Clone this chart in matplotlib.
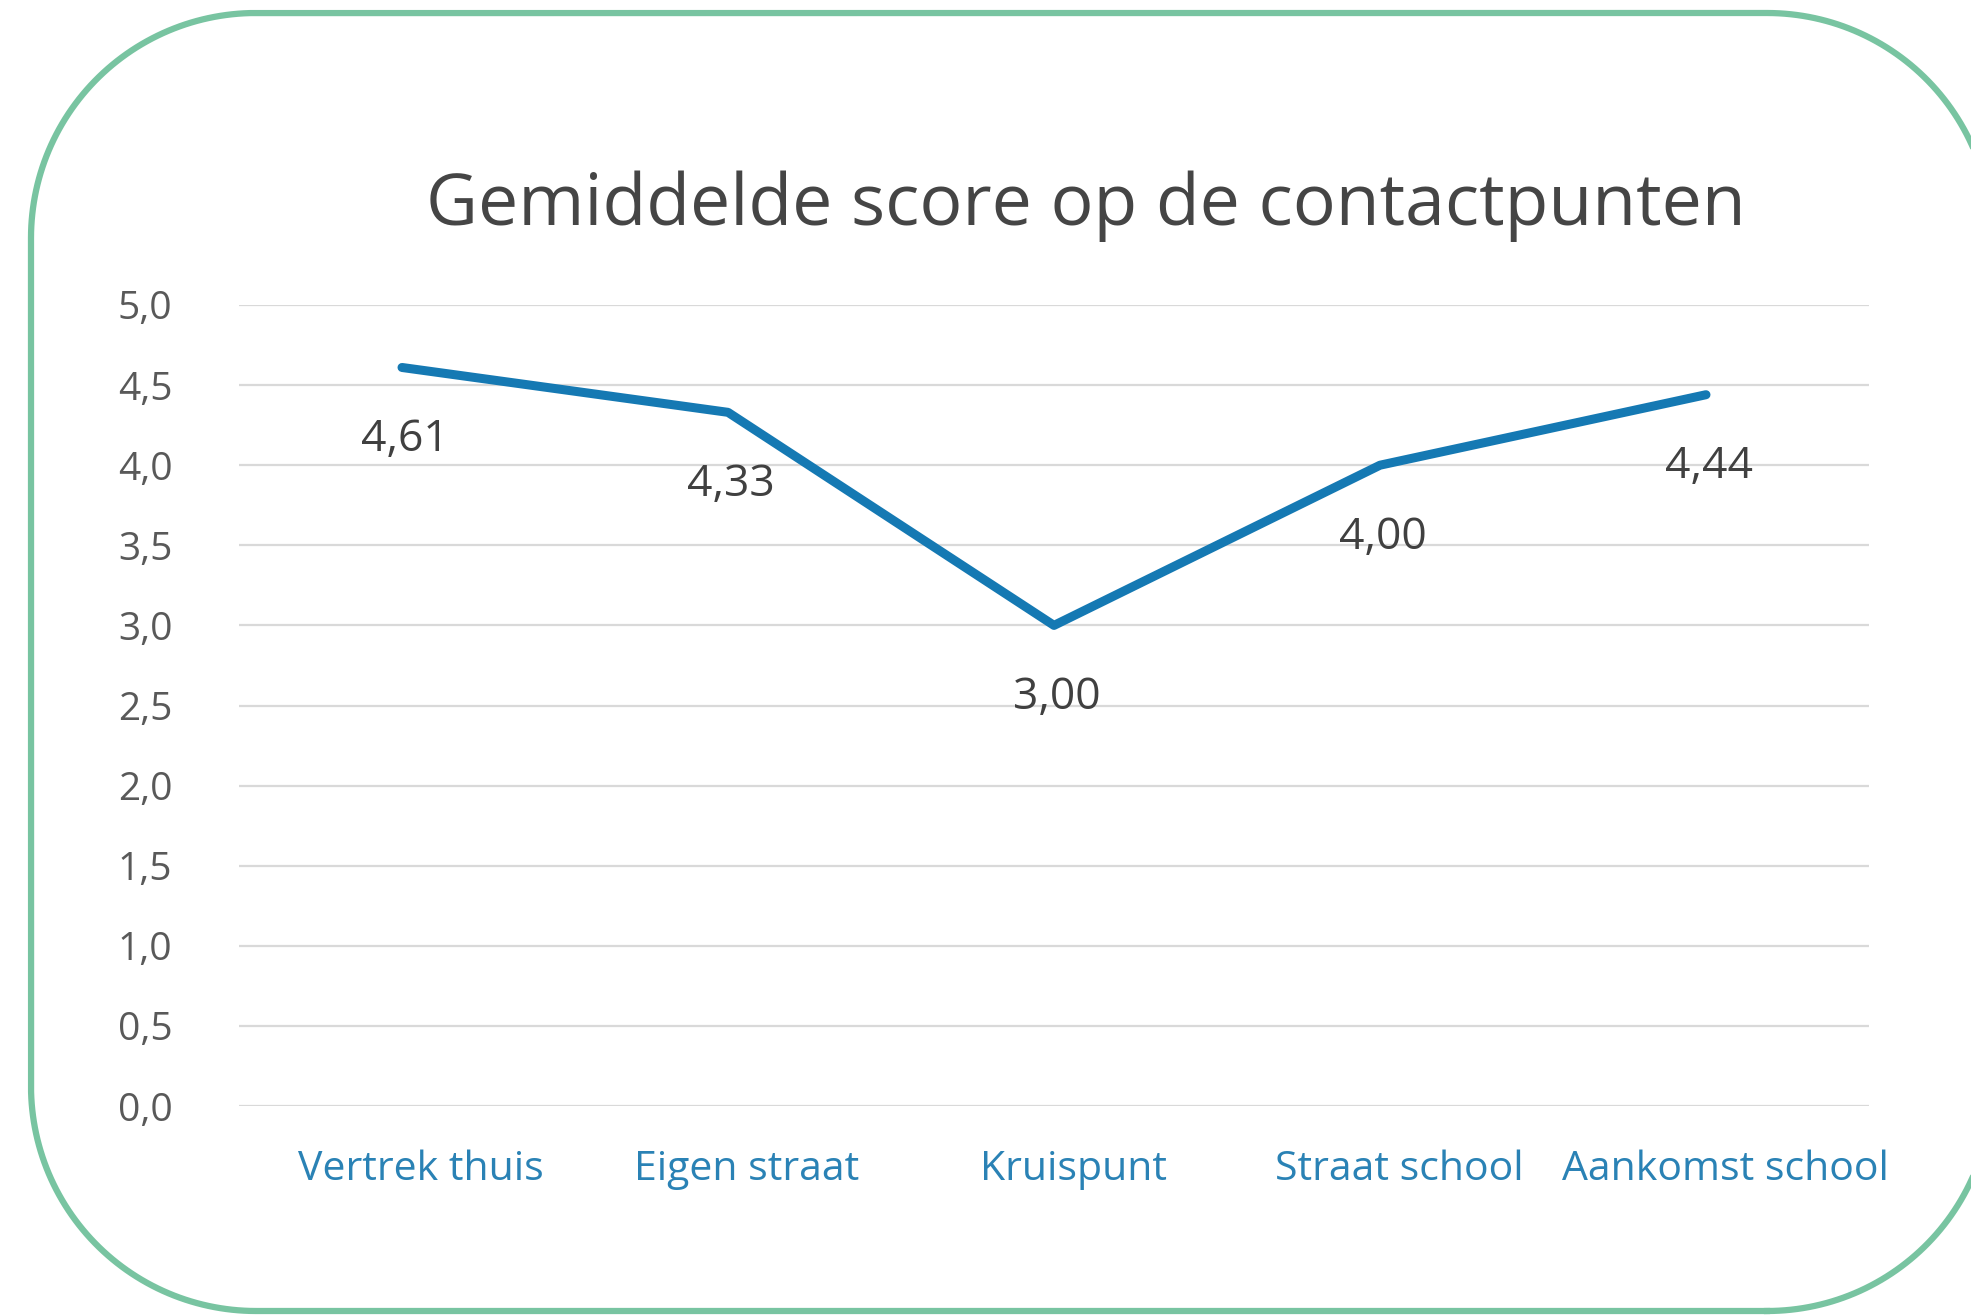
import numpy as np
import matplotlib.pyplot as plt
import matplotlib.transforms as mtransforms

# data
categories = ["Vertrek thuis", "Eigen straat", "Kruispunt", "Straat school", "Aankomst school"]
scores = [4.61, 4.33, 3.00, 4.00, 4.44]
score_labels = ["4,61", "4,33", "3,00", "4,00", "4,44"]
y_ticks = [0.0, 0.5, 1.0, 1.5, 2.0, 2.5, 3.0, 3.5, 4.0, 4.5, 5.0]
y_tick_labels = ["0,0", "0,5", "1,0", "1,5", "2,0", "2,5", "3,0", "3,5", "4,0", "4,5", "5,0"]

plt.rcParams['font.family'] = ['Open Sans', 'DejaVu Sans']

W, H = 1971, 1315
fig = plt.figure(figsize=(W / 100, H / 100), dpi=100)
fig.patch.set_facecolor('white')

# background axis in pixel units for the rounded frame
bg = fig.add_axes([0, 0, 1, 1])
bg.set_xlim(0, W)
bg.set_ylim(0, H)
bg.axis('off')


def rounded_rect(x0, y0, x1, y1, r, n=60):
    # corner centres and start angles, going counter-clockwise
    corners = [(x1 - r, y0 + r, -90), (x1 - r, y1 - r, 0),
               (x0 + r, y1 - r, 90), (x0 + r, y0 + r, 180)]
    xs, ys = [], []
    for cx, cy, a in corners:
        t = np.radians(np.linspace(a, a + 90, n))
        xs.extend(cx + r * np.cos(t))
        ys.extend(cy + r * np.sin(t))
    xs.append(xs[0])
    ys.append(ys[0])
    return xs, ys


fx, fy = rounded_rect(31, 4, 1992, 1302, 225)
bg.plot(fx, fy, color='#78c4a1', linewidth=4.5, clip_on=False)

# the chart itself
ax = fig.add_axes([239 / W, 209 / H, (1869 - 239) / W, (1106 - 305) / H])
ax.set_facecolor('none')
x = list(range(len(categories)))
ax.plot(x, scores, color='#1579b3', linewidth=6.5, solid_capstyle='round',
        solid_joinstyle='round', zorder=3)

for xi, yi, lab in zip(x, scores, score_labels):
    ax.annotate(lab, (xi, yi), xytext=(2, -52), textcoords='offset points',
                ha='center', va='center', fontsize=32, color='#404040')

ax.set_xlim(-0.5, 4.5)
ax.set_ylim(0, 5)
ax.set_yticks(y_ticks)
ax.set_yticklabels(y_tick_labels)
ax.set_xticks(x)
ax.set_xticklabels(categories)
ax.grid(axis='y', color='#d9d9d9', linewidth=1.6)
ax.set_axisbelow(True)
for s in ax.spines.values():
    s.set_visible(False)
ax.tick_params(axis='y', length=0, pad=48, labelsize=28, labelcolor='#595959')
ax.tick_params(axis='x', length=0, pad=31, labelsize=29.5, labelcolor='#2a82b5')

# category labels sit a little to the right of their points in the original
shift = mtransforms.ScaledTranslation(0.19, 0, fig.dpi_scale_trans)
for lbl in ax.get_xticklabels():
    lbl.set_transform(lbl.get_transform() + shift)

fig.text(1086 / W, 1 - 206 / H, "Gemiddelde score op de contactpunten",
         ha='center', va='center', fontsize=51.5, color='#454545')

fig.savefig('out.png', dpi=100)
